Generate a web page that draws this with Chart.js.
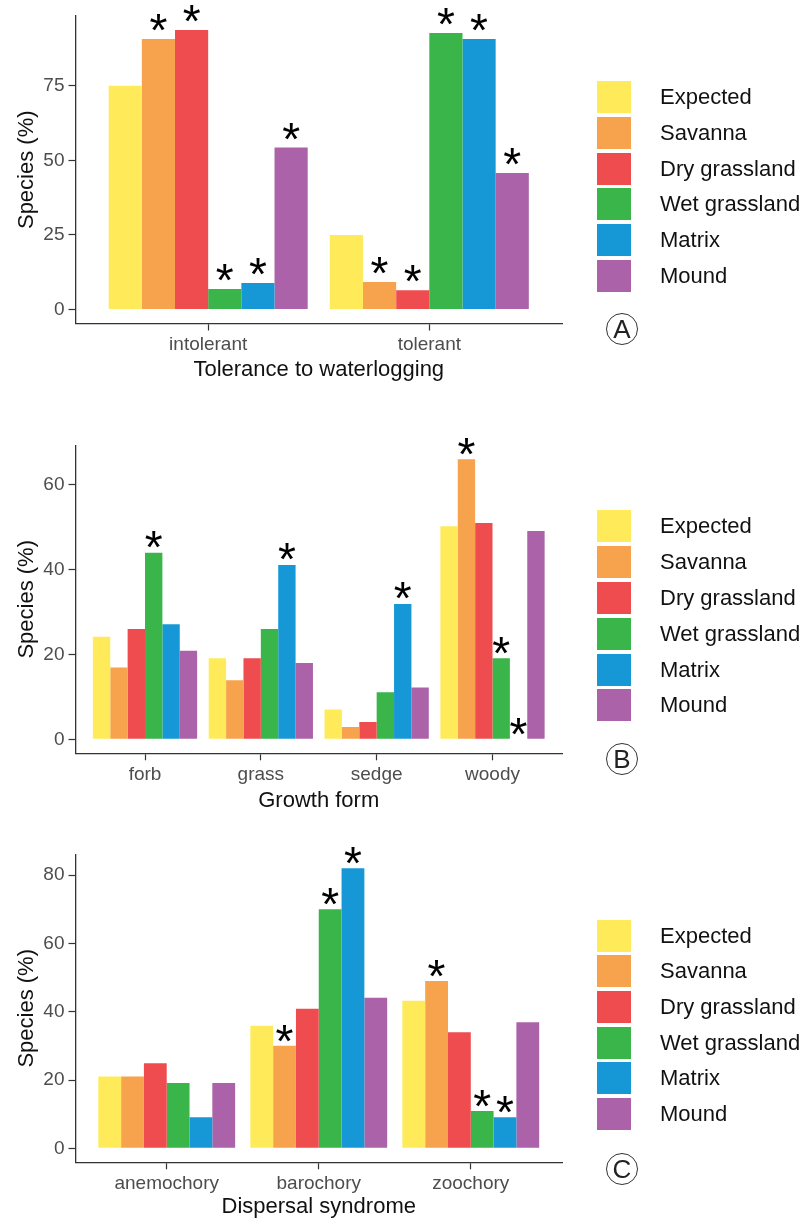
<!DOCTYPE html>
<html>
<head>
<meta charset="utf-8">
<title>Species traits by habitat</title>
<script src="https://cdn.jsdelivr.net/npm/chart.js@4.4.1/dist/chart.umd.min.js"></script>
<style>
    body { margin: 0; background: #fff; font-family: "Liberation Sans", Arial, sans-serif; }
    #page { position: relative; width: 809px; height: 1222px; overflow: hidden; }
    #page canvas { position: absolute; left: 0; }
    .legend { position: absolute; left: 597px; width: 212px; }
    .legend-row { position: absolute; left: 0; height: 32px; width: 212px; }
    .legend-box { position: absolute; left: 0; top: 0; width: 34px; height: 32px; }
    .legend-text { position: absolute; left: 63px; top: 0; line-height: 32px; font-size: 22px; color: #111; white-space: nowrap; }
    .panel-tag {
        position: absolute; width: 30px; height: 30px; border: 1.4px solid #333; border-radius: 50%;
        text-align: center; line-height: 31px; font-size: 26px; color: #222;
    }
</style>
</head>
<body>
<div id="page">
    <canvas id="chartA" width="809" height="392" style="top:0px"></canvas>
    <canvas id="chartB" width="809" height="422" style="top:392px"></canvas>
    <canvas id="chartC" width="809" height="408" style="top:814px"></canvas>
</div>
<script>
const FONT = '"Liberation Sans", Arial, sans-serif';

const seriesNames = ['Expected', 'Savanna', 'Dry grassland', 'Wet grassland', 'Matrix', 'Mound'];
const seriesColors = ['#FFEB5A', '#F7A24C', '#EE4C4F', '#3AB54A', '#1798D6', '#AC62A8'];

// A - tolerance to waterlogging
const waterCats = ['intolerant', 'tolerant'];
const waterExpected = [75, 25];
const waterSavanna = [90.7, 9.2];
const waterDry = [93.7, 6.5];
const waterWet = [6.9, 92.7];
const waterMatrix = [8.9, 90.7];
const waterMound = [54.3, 45.8];
const waterStars = [[0, 0], [1, 1], [1, 1], [1, 1], [1, 1], [1, 1]];
const waterTicks = [0, 25, 50, 75];

// B - growth form
const formCats = ['forb', 'grass', 'sedge', 'woody'];
const formExpected = [24.2, 19.1, 7.0, 50.2];
const formSavanna = [16.9, 13.9, 2.9, 66.0];
const formDry = [26.0, 19.1, 4.1, 51.0];
const formWet = [44.0, 26.0, 11.1, 19.1];
const formMatrix = [27.1, 41.1, 31.9, 0];
const formMound = [20.9, 18.0, 12.2, 49.1];
const formStars = [[0, 0, 0, 0], [0, 0, 0, 1], [0, 0, 0, 0], [1, 0, 0, 1], [0, 1, 1, 1], [0, 0, 0, 0]];
const formTicks = [0, 20, 40, 60];

// C - dispersal syndrome
const dispCats = ['anemochory', 'barochory', 'zoochory'];
const dispExpected = [21.0, 35.9, 43.2];
const dispSavanna = [21.0, 30.0, 49.0];
const dispDry = [24.9, 40.9, 34.0];
const dispWet = [19.1, 70.0, 10.9];
const dispMatrix = [9.1, 82.0, 9.1];
const dispMound = [19.1, 44.1, 36.9];
const dispStars = [[0, 0, 0], [0, 1, 1], [0, 0, 0], [0, 1, 1], [0, 1, 1], [0, 0, 0]];
const dispTicks = [0, 20, 40, 60, 80];

const starPlugin = {
    id: 'stars',
    afterDatasetsDraw(chart, args, opts) {
        const ctx = chart.ctx;
        ctx.save();
        ctx.font = '46px ' + FONT;
        ctx.fillStyle = '#000';
        ctx.textAlign = 'center';
        ctx.textBaseline = 'alphabetic';
        const m = ctx.measureText('*');
        const shift = (m.actualBoundingBoxDescent - m.actualBoundingBoxAscent) / 2;
        chart.data.datasets.forEach((ds, d) => {
            const meta = chart.getDatasetMeta(d);
            ds.stars.forEach((s, i) => {
                if (!s) return;
                const bar = meta.data[i];
                ctx.fillText('*', bar.x, bar.y - opts.gap - shift);
            });
        });
        ctx.restore();
    }
};

function makeChart(id, cats, series, stars, yTicks, xTitle, layout) {
    const yMax = Math.max(...series.flat());
    const datasets = series.map((values, s) => ({
        label: seriesNames[s],
        data: values.map((v, i) => ({ x: i + 1, y: v })),
        backgroundColor: seriesColors[s],
        borderWidth: 0,
        stars: stars[s]
    }));

    return new Chart(document.getElementById(id), {
        type: 'bar',
        data: { datasets },
        plugins: [starPlugin],
        options: {
            responsive: false,
            animation: false,
            categoryPercentage: 0.9,
            barPercentage: 1,
            layout: { padding: { top: layout.top, right: 247, bottom: 0, left: 0 } },
            plugins: {
                legend: { display: false },
                tooltip: { enabled: false },
                stars: { gap: layout.gap }
            },
            scales: {
                x: {
                    type: 'linear',
                    offset: false,
                    min: 0.4,
                    max: cats.length + 0.6,
                    afterBuildTicks: scale => { scale.ticks = cats.map((c, i) => ({ value: i + 1 })); },
                    afterFit: scale => { scale.height = layout.xHeight; },
                    grid: { offset: false, drawOnChartArea: false, tickLength: 7, color: '#333', tickWidth: 1.2 },
                    border: { display: true, color: '#333', width: 1.3 },
                    ticks: {
                        callback: v => cats[v - 1],
                        autoSkip: false, maxRotation: 0,
                        color: '#4d4d4d', font: { family: FONT, size: 19 }, padding: 3
                    },
                    title: {
                        display: true, text: xTitle, color: '#111',
                        font: { family: FONT, size: 22 }, padding: { top: 0, bottom: layout.titlePad }
                    }
                },
                y: {
                    min: -yMax * 0.05,
                    max: yMax * 1.05,
                    afterBuildTicks: scale => { scale.ticks = yTicks.map(v => ({ value: v })); },
                    afterFit: scale => { scale.width = 75.5; },
                    grid: { drawOnChartArea: false, tickLength: 7, color: '#333', tickWidth: 1.2 },
                    border: { display: true, color: '#333', width: 1.3 },
                    ticks: { color: '#4d4d4d', font: { family: FONT, size: 19 }, padding: 4 },
                    title: {
                        display: true, text: 'Species (%)', color: '#111',
                        font: { family: FONT, size: 22 }, padding: { top: 14, bottom: 0 }
                    }
                }
            }
        }
    });
}

function addLegend(firstCenterY, step) {
    const page = document.getElementById('page');
    const legend = document.createElement('div');
    legend.className = 'legend';
    legend.style.top = '0px';
    seriesNames.forEach((name, i) => {
        const row = document.createElement('div');
        row.className = 'legend-row';
        row.style.top = (firstCenterY + i * step - 16) + 'px';
        row.innerHTML = `<div class="legend-box" style="background:${seriesColors[i]}"></div>` +
            `<span class="legend-text">${name}</span>`;
        legend.appendChild(row);
    });
    page.appendChild(legend);
}

function addTag(letter, cx, cy) {
    const tag = document.createElement('div');
    tag.className = 'panel-tag';
    tag.textContent = letter;
    tag.style.left = (cx - 16) + 'px';
    tag.style.top = (cy - 16) + 'px';
    document.getElementById('page').appendChild(tag);
}

makeChart('chartA', waterCats,
    [waterExpected, waterSavanna, waterDry, waterWet, waterMatrix, waterMound],
    waterStars, waterTicks, 'Tolerance to waterlogging',
    { top: 16, xHeight: 68.5, titlePad: 9, gap: 16.5 });

makeChart('chartB', formCats,
    [formExpected, formSavanna, formDry, formWet, formMatrix, formMound],
    formStars, formTicks, 'Growth form',
    { top: 53.3, xHeight: 60.7, titlePad: 0, gap: 13 });

makeChart('chartC', dispCats,
    [dispExpected, dispSavanna, dispDry, dispWet, dispMatrix, dispMound],
    dispStars, dispTicks, 'Dispersal syndrome',
    { top: 40.3, xHeight: 59.7, titlePad: 2, gap: 12.5 });

addLegend(97.2, 35.7);
addLegend(526.3, 35.8);
addLegend(935.7, 35.6);

addTag('A', 622, 329.3);
addTag('B', 622, 759.3);
addTag('C', 622, 1169);
</script>
</body>
</html>
